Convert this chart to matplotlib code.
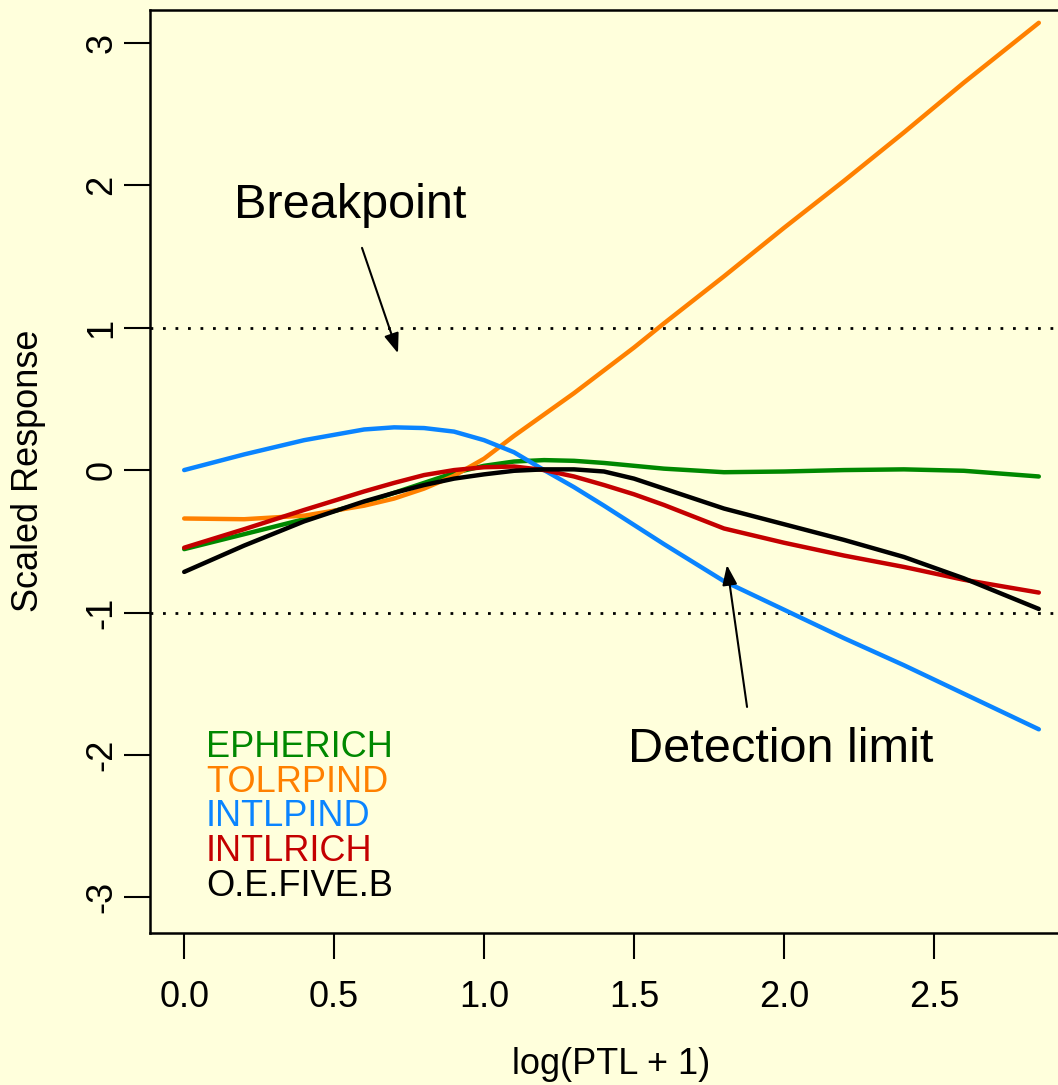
import matplotlib
matplotlib.use('Agg')
import matplotlib.pyplot as plt

plt.rcParams['font.family'] = ['Liberation Sans', 'DejaVu Sans']

# smoothed responses along log(PTL + 1)
x = [0.0, 0.2, 0.4, 0.6, 0.7, 0.8, 0.9, 1.0, 1.1, 1.2, 1.3, 1.4, 1.5, 1.6,
     1.8, 2.0, 2.2, 2.4, 2.6, 2.85]
epherich = [-0.555, -0.45, -0.345, -0.23, -0.16, -0.09, -0.02, 0.03, 0.06, 0.07,
            0.065, 0.05, 0.03, 0.01, -0.015, -0.01, 0.0, 0.005, -0.005, -0.045]
tolrpind = [-0.34, -0.345, -0.32, -0.25, -0.20, -0.13, -0.04, 0.08, 0.24, 0.39,
            0.54, 0.70, 0.86, 1.03, 1.36, 1.70, 2.03, 2.37, 2.72, 3.14]
intlpind = [0.0, 0.11, 0.21, 0.285, 0.30, 0.295, 0.27, 0.21, 0.125, 0.0,
            -0.12, -0.25, -0.385, -0.52, -0.78, -0.98, -1.18, -1.37, -1.57, -1.82]
intlrich = [-0.545, -0.415, -0.28, -0.15, -0.09, -0.035, 0.0, 0.02, 0.025, 0.0,
            -0.045, -0.105, -0.17, -0.245, -0.41, -0.51, -0.60, -0.68, -0.77, -0.86]
oefiveb = [-0.715, -0.53, -0.36, -0.22, -0.16, -0.105, -0.06, -0.03, -0.005, 0.005,
           0.005, -0.01, -0.06, -0.13, -0.27, -0.38, -0.49, -0.61, -0.76, -0.975]

names = ['EPHERICH', 'TOLRPIND', 'INTLPIND', 'INTLRICH', 'O.E.FIVE.B']
series = [epherich, tolrpind, intlpind, intlrich, oefiveb]
colors = ['#008800', '#FF8000', '#0A84FF', '#C40000', '#000000']

xticks = [0.0, 0.5, 1.0, 1.5, 2.0, 2.5]
yticks = [-3, -2, -1, 0, 1, 2, 3]
limits = [-1, 1]

bg = '#FFFFDC'
W, H = 1058, 1085
fig = plt.figure(figsize=(W / 100, H / 100), dpi=100, facecolor=bg)
# plot region runs off the right edge of the page
ax = fig.add_axes([150 / W, 152 / H, 923 / W, 923 / H])
ax.set_facecolor(bg)

for yv in limits:
    ax.axhline(yv, color='black', lw=2, linestyle=(0, (1, 3.5)))

for ys, c in zip(series, colors):
    ax.plot(x, ys, color=c, lw=3.2, solid_capstyle='round', solid_joinstyle='round')

ax.set_xlim(-0.114, 2.964)
ax.set_ylim(-3.25, 3.23)
ax.set_xticks(xticks)
ax.set_xticklabels(['%.1f' % t for t in xticks])
ax.set_yticks(yticks)
ax.set_yticklabels([str(t) for t in yticks], rotation=90, va='center')
ax.tick_params(direction='out', length=19, width=1.5, labelsize=26)
ax.tick_params(axis='x', pad=15)
ax.tick_params(axis='y', pad=3)
for s in ax.spines.values():
    s.set_linewidth(1.8)

fig.text(611 / W, 1 - 1065 / H, 'log(PTL + 1)', fontsize=26, ha='center', va='center')
fig.text(29 / W, 1 - 471 / H, 'Scaled Response', fontsize=26, ha='center', va='center',
         rotation=90)

# legend as coloured text
for i, (n, c) in enumerate(zip(names, colors)):
    ax.text(0.073, -1.945 - 0.245 * i, n, color=c, fontsize=26, va='center', ha='left')

ax.annotate('', xy=(0.713, 0.82), xytext=(0.593, 1.56),
            arrowprops=dict(arrowstyle='-|>,head_length=1.2,head_width=0.45',
                            color='black', lw=1.5, shrinkA=0, shrinkB=0))
ax.text(0.553, 1.86, 'Breakpoint', fontsize=35, ha='center', va='center')

ax.annotate('', xy=(1.81, -0.667), xytext=(1.877, -1.663),
            arrowprops=dict(arrowstyle='-|>,head_length=1.2,head_width=0.45',
                            color='black', lw=1.5, shrinkA=0, shrinkB=0))
ax.text(1.99, -1.965, 'Detection limit', fontsize=35, ha='center', va='center')

plt.savefig('out.png', dpi=100, facecolor=bg)
